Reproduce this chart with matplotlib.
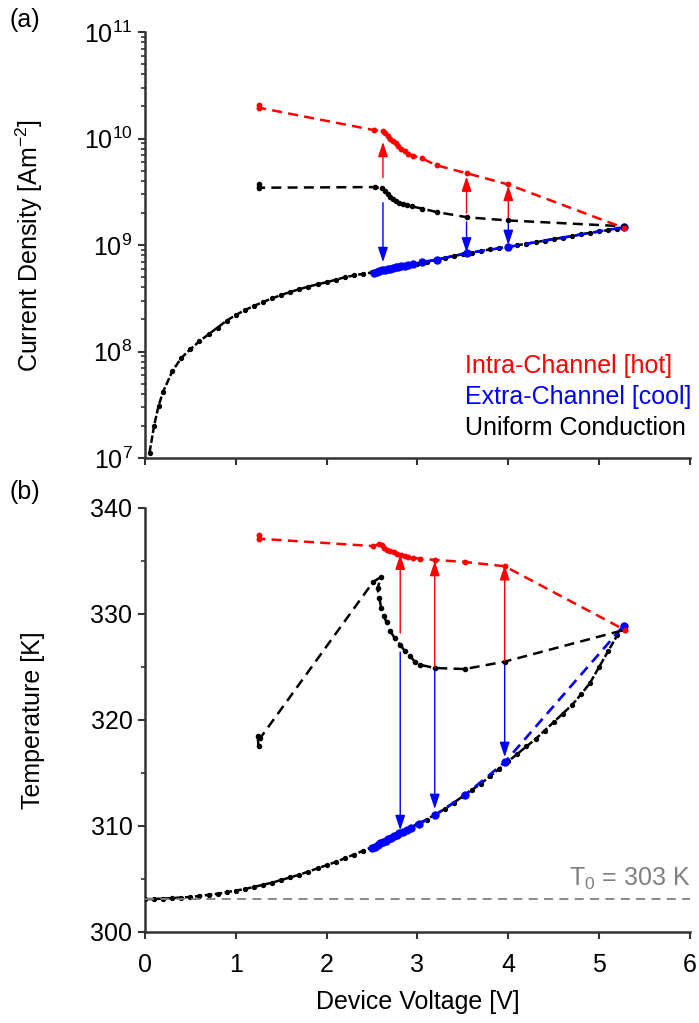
import matplotlib
matplotlib.use("Agg")
import matplotlib.pyplot as plt
from matplotlib.ticker import LogLocator, NullFormatter, MultipleLocator

plt.rcParams["font.family"] = ["Liberation Sans", "DejaVu Sans"]
plt.rcParams["mathtext.fontset"] = "custom"
plt.rcParams["mathtext.rm"] = "Liberation Sans"
plt.rcParams["mathtext.it"] = "Liberation Sans:italic"
plt.rcParams["font.size"] = 18

# ---- (a) current density data ----
v_uni_top = [0.05, 0.10, 0.15, 0.20, 0.30, 0.40, 0.50, 0.60, 0.70, 0.80, 0.90, 1.00,
             1.10, 1.20, 1.30, 1.40, 1.50, 1.60, 1.70, 1.80, 1.90, 2.00, 2.10, 2.20,
             2.30, 2.40, 2.50, 2.60, 2.70, 2.80, 2.90, 3.00, 3.10, 3.20, 3.30, 3.40,
             3.50, 3.60, 3.70, 3.80, 3.90, 4.00, 4.10, 4.20, 4.30, 4.40, 4.50, 4.60,
             4.70, 4.80, 4.90, 5.00, 5.10, 5.20, 5.27]
j_uni_top = [1.12e7, 2.0e7, 3.1e7, 4.2e7, 6.5e7, 8.7e7, 1.05e8, 1.25e8, 1.45e8, 1.68e8,
             1.95e8, 2.2e8, 2.45e8, 2.68e8, 2.92e8, 3.15e8, 3.4e8, 3.62e8, 3.85e8, 4.07e8,
             4.28e8, 4.47e8, 4.72e8, 4.98e8, 5.18e8, 5.37e8, 5.52e8, 5.75e8, 5.98e8, 6.2e8,
             6.45e8, 6.7e8, 6.95e8, 7.24e8, 7.55e8, 7.9e8, 8.2e8, 8.5e8, 8.8e8, 9.1e8,
             9.35e8, 9.6e8, 9.95e8, 1.03e9, 1.06e9, 1.1e9, 1.14e9, 1.17e9, 1.21e9, 1.26e9,
             1.3e9, 1.34e9, 1.38e9, 1.42e9, 1.45e9]

v_hot_top = [1.25, 1.25, 2.52, 2.62, 2.64, 2.67, 2.70, 2.73, 2.76, 2.79, 2.82, 2.86,
             2.90, 2.95, 3.05, 3.21, 3.55, 4.00, 5.27]
j_hot_top = [2.05e10, 1.95e10, 1.2e10, 1.17e10, 1.12e10, 1.06e10, 1.0e10, 9.5e9, 9.0e9,
             8.5e9, 8.0e9, 7.6e9, 7.2e9, 6.9e9, 6.5e9, 5.6e9, 4.7e9, 3.7e9, 1.45e9]

v_mix_top = [1.25, 1.25, 1.26, 2.53, 2.61, 2.64, 2.67, 2.70, 2.73, 2.76, 2.80, 2.84,
             2.89, 2.94, 3.05, 3.21, 3.55, 4.00, 5.27]
j_mix_top = [3.75e9, 3.5e9, 3.45e9, 3.5e9, 3.4e9, 3.2e9, 3.0e9, 2.85e9, 2.72e9, 2.6e9,
             2.5e9, 2.42e9, 2.35e9, 2.3e9, 2.2e9, 2.04e9, 1.82e9, 1.7e9, 1.5e9]

v_cool_top = [2.52, 2.55, 2.58, 2.61, 2.64, 2.67, 2.70, 2.73, 2.76, 2.79, 2.82, 2.86,
              2.90, 2.95, 3.05, 3.21, 3.55, 4.00, 5.27]
j_cool_top = [5.5e8, 5.6e8, 5.7e8, 5.8e8, 5.85e8, 5.9e8, 6.0e8, 6.1e8, 6.15e8, 6.2e8,
              6.3e8, 6.4e8, 6.5e8, 6.6e8, 6.9e8, 7.3e8, 8.4e8, 9.6e8, 1.47e9]

arrow_v_top = [2.62, 3.54, 4.00]
red_from_top = [4.3e9, 2.0e9, 1.8e9]
red_to_top = [9.3e9, 4.4e9, 3.6e9]
blue_from_top = [2.5e9, 1.65e9, 1.6e9]
blue_to_top = [6.9e8, 8.5e8, 1.0e9]

# ---- (b) temperature data ----
v_uni_bot = [0.0, 0.1, 0.2, 0.3, 0.4, 0.5, 0.6, 0.7, 0.8, 0.9, 1.0, 1.1, 1.2, 1.3,
             1.4, 1.5, 1.6, 1.7, 1.8, 1.9, 2.0, 2.1, 2.2, 2.3, 2.4, 2.5, 2.6, 2.7,
             2.8, 2.9, 3.0, 3.1, 3.2, 3.3, 3.4, 3.5, 3.6, 3.7, 3.8, 3.9, 4.0, 4.1,
             4.2, 4.3, 4.4, 4.5, 4.6, 4.7, 4.8, 4.9, 5.0, 5.1, 5.2, 5.25]
t_uni_bot = [303.1, 303.1, 303.15, 303.2, 303.25, 303.3, 303.4, 303.5, 303.6, 303.75,
             303.9, 304.05, 304.25, 304.45, 304.65, 304.9, 305.15, 305.4, 305.7, 306.0,
             306.3, 306.6, 306.95, 307.3, 307.65, 308.0, 308.3, 308.75, 309.2, 309.7,
             310.2, 310.6, 311.1, 311.6, 312.2, 312.8, 313.4, 314.0, 314.7, 315.4,
             316.1, 316.8, 317.5, 318.2, 319.0, 319.8, 320.6, 321.4, 322.4, 323.5,
             325.0, 326.5, 328.0, 328.6]

v_hot_bot = [1.25, 1.25, 2.51, 2.58, 2.61, 2.63, 2.66, 2.70, 2.74, 2.78, 2.82, 2.86,
             2.90, 2.95, 3.03, 3.19, 3.52, 3.96, 5.28]
t_hot_bot = [337.4, 337.1, 336.4, 336.6, 336.5, 336.2, 336.0, 335.9, 335.8, 335.7,
             335.6, 335.5, 335.4, 335.3, 335.2, 335.1, 334.9, 334.5, 328.5]

v_mix_bot = [1.24, 1.25, 1.27, 2.51, 2.60, 2.56, 2.58, 2.60, 2.63, 2.66, 2.70, 2.75,
             2.81, 2.86, 2.92, 2.97, 3.03, 3.19, 3.52, 3.96, 5.28]
t_mix_bot = [318.5, 317.5, 318.3, 333.0, 333.5, 332.4, 331.5, 330.6, 329.8, 329.2,
             328.4, 327.7, 327.1, 326.5, 326.0, 325.5, 325.2, 324.9, 324.8, 325.5, 328.5]

v_cool_bot = [2.50, 2.53, 2.56, 2.59, 2.62, 2.65, 2.68, 2.71, 2.74, 2.77, 2.80, 2.84,
              2.88, 2.93, 3.02, 3.19, 3.52, 3.96, 5.27]
t_cool_bot = [307.9, 308.05, 308.2, 308.35, 308.5, 308.6, 308.75, 308.9, 309.05, 309.15,
              309.3, 309.45, 309.6, 309.8, 310.2, 311.0, 312.9, 316.0, 328.9]

arrow_v_bot = [2.81, 3.19, 3.96]
red_from_bot = [328.2, 325.0, 325.6]
red_to_bot = [335.6, 335.0, 334.6]
blue_from_bot = [326.4, 324.7, 325.2]
blue_to_bot = [309.6, 311.6, 316.5]

T0 = 303.1

RED = "#ff0000"
BLUE = "#0000ff"
SPINE = "#333333"
DASH = (0, (4, 2.5))
UNI_DASH = (0, (3, 1))

fig = plt.figure(figsize=(6.99, 10.23), dpi=100)
ax1 = fig.add_axes([0.2074, 0.5523, 0.7797, 0.4164])
ax2 = fig.add_axes([0.2074, 0.0890, 0.7797, 0.4145])


def style_axes(ax):
    for s in ["top", "right"]:
        ax.spines[s].set_visible(False)
    for s in ["left", "bottom"]:
        ax.spines[s].set_linewidth(1.8)
        ax.spines[s].set_color(SPINE)
    ax.tick_params(which="major", direction="out", length=5, width=1.5, color=SPINE, pad=4)
    ax.tick_params(which="minor", direction="out", length=3, width=1.2, color=SPINE)
    ax.set_xlim(0, 6)
    ax.xaxis.set_major_locator(MultipleLocator(1))


def draw_arrows(ax, xs, starts, ends, color):
    for x, a, b in zip(xs, starts, ends):
        ax.annotate("", xy=(x, b), xytext=(x, a),
                    arrowprops=dict(arrowstyle="-|>,head_length=0.9,head_width=0.3",
                                    color=color, lw=1.0, mutation_scale=10,
                                    shrinkA=0, shrinkB=0), zorder=6)


# ---- panel (a) ----
ax1.set_yscale("log")
ax1.plot(v_uni_top, j_uni_top, color="k", ls=UNI_DASH, lw=1.8, marker="o", ms=2.8, zorder=3)
ax1.plot(v_cool_top, j_cool_top, color=BLUE, ls=DASH, lw=1.9, marker="o", ms=5, zorder=4)
ax1.plot(v_mix_top, j_mix_top, color="k", ls=DASH, lw=1.8, marker="o", ms=3.0, zorder=4)
ax1.plot(v_hot_top, j_hot_top, color=RED, ls=DASH, lw=1.8, marker="o", ms=3.2, zorder=5)
draw_arrows(ax1, arrow_v_top, red_from_top, red_to_top, RED)
draw_arrows(ax1, arrow_v_top, blue_from_top, blue_to_top, BLUE)

style_axes(ax1)
ax1.set_ylim(1e7, 1e11)
ax1.yaxis.set_major_locator(LogLocator(base=10, numticks=10))
ax1.yaxis.set_minor_locator(LogLocator(base=10, subs=range(2, 10), numticks=20))
ax1.yaxis.set_minor_formatter(NullFormatter())
ax1.set_xticklabels([])
ax1.set_ylabel("Current Density [Am$^{-2}$]")
ax1.yaxis.set_label_coords(-0.183, 0.5)

ax1.text(0.587, 0.216, "Intra-Channel [hot]", color=RED, transform=ax1.transAxes, va="center")
ax1.text(0.587, 0.143, "Extra-Channel [cool]", color=BLUE, transform=ax1.transAxes, va="center")
ax1.text(0.587, 0.070, "Uniform Conduction", color="k", transform=ax1.transAxes, va="center")

# ---- panel (b) ----
ax2.plot(v_uni_bot, t_uni_bot, color="k", ls=UNI_DASH, lw=1.8, marker="o", ms=2.8, zorder=3)
ax2.plot(v_cool_bot, t_cool_bot, color=BLUE, ls=DASH, lw=1.9, marker="o", ms=5, zorder=4)
ax2.plot(v_mix_bot, t_mix_bot, color="k", ls=DASH, lw=1.8, marker="o", ms=3.0, zorder=4)
ax2.plot(v_hot_bot, t_hot_bot, color=RED, ls=DASH, lw=1.8, marker="o", ms=3.2, zorder=5)
draw_arrows(ax2, arrow_v_bot, red_from_bot, red_to_bot, RED)
draw_arrows(ax2, arrow_v_bot, blue_from_bot, blue_to_bot, BLUE)

ax2.axhline(T0, color="#808080", ls=(0, (5, 3.5)), lw=1.3, zorder=6)
ax2.text(6, 305.0, "T$_0$ = 303 K", color="#808080", ha="right", va="center")

style_axes(ax2)
ax2.tick_params(axis="x", which="major", pad=10)
ax2.set_ylim(300, 340)
ax2.yaxis.set_major_locator(MultipleLocator(10))
ax2.yaxis.set_minor_locator(MultipleLocator(5))
ax2.set_ylabel("Temperature [K]")
ax2.yaxis.set_label_coords(-0.183, 0.5)
ax2.set_xlabel("Device Voltage [V]")
ax2.xaxis.set_label_coords(0.5, -0.137)

fig.text(0.036, 0.980, "(a)", ha="center", va="center")
fig.text(0.036, 0.519, "(b)", ha="center", va="center")

fig.savefig("out.png", dpi=100)
